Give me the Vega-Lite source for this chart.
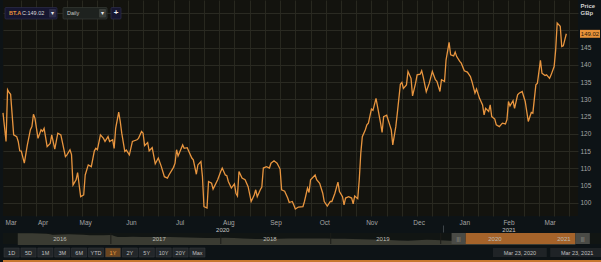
{
  "$schema": "https://vega.github.io/schema/vega-lite/v6.json",
  "background": "#0d1316",
  "padding": 0,
  "width": 575,
  "height": 216,
  "config": {"font": "Liberation Sans", "view": {"stroke": null, "fill": "#13130e"}},
  "resolve": {"scale": {"x": "independent", "y": "independent"}, "axis": {"x": "independent", "y": "independent"}},
  "layer": [
    {
      "data": {"values": [
      {"date":"2020-03-18","price":126.1},{"date":"2020-03-20","price":117.8},{"date":"2020-03-21","price":132.8},{"date":"2020-03-22","price":132.0},{"date":"2020-03-23","price":131.5},{"date":"2020-03-25","price":119.7},{"date":"2020-03-27","price":119.2},{"date":"2020-03-28","price":117.8},{"date":"2020-03-29","price":115.1},{"date":"2020-03-30","price":115.0},
      {"date":"2020-04-01","price":111.5},{"date":"2020-04-03","price":116.8},{"date":"2020-04-05","price":121.2},{"date":"2020-04-06","price":122.1},{"date":"2020-04-07","price":125.7},{"date":"2020-04-08","price":124.5},{"date":"2020-04-10","price":118.7},{"date":"2020-04-12","price":121.2},{"date":"2020-04-13","price":120.7},{"date":"2020-04-14","price":121.6},{"date":"2020-04-16","price":116.3},{"date":"2020-04-18","price":117.2},{"date":"2020-04-19","price":119.7},{"date":"2020-04-21","price":115.6},{"date":"2020-04-23","price":120.2},{"date":"2020-04-25","price":119.7},{"date":"2020-04-28","price":113.4},{"date":"2020-04-29","price":113.9},
      {"date":"2020-05-01","price":115.4},{"date":"2020-05-02","price":114.0},{"date":"2020-05-03","price":105.2},{"date":"2020-05-05","price":106.7},{"date":"2020-05-06","price":108.8},{"date":"2020-05-08","price":101.8},{"date":"2020-05-10","price":102.3},{"date":"2020-05-11","price":108.1},{"date":"2020-05-13","price":111.0},{"date":"2020-05-15","price":110.5},{"date":"2020-05-17","price":115.1},{"date":"2020-05-18","price":115.8},{"date":"2020-05-19","price":115.4},{"date":"2020-05-21","price":119.7},{"date":"2020-05-23","price":118.7},{"date":"2020-05-24","price":117.8},{"date":"2020-05-26","price":119.2},{"date":"2020-05-27","price":117.8},{"date":"2020-05-29","price":118.3},{"date":"2020-05-30","price":115.8},{"date":"2020-05-31","price":121.6},
      {"date":"2020-06-02","price":126.3},{"date":"2020-06-03","price":123.6},{"date":"2020-06-04","price":120.2},{"date":"2020-06-06","price":114.9},{"date":"2020-06-07","price":115.3},{"date":"2020-06-09","price":113.9},{"date":"2020-06-11","price":117.8},{"date":"2020-06-14","price":118.3},{"date":"2020-06-15","price":118.7},{"date":"2020-06-17","price":120.7},{"date":"2020-06-18","price":120.2},{"date":"2020-06-19","price":116.6},{"date":"2020-06-21","price":117.5},{"date":"2020-06-22","price":115.1},{"date":"2020-06-24","price":116.0},{"date":"2020-06-26","price":111.3},{"date":"2020-06-28","price":113.0},{"date":"2020-06-30","price":110.5},
      {"date":"2020-07-02","price":107.6},{"date":"2020-07-04","price":107.2},{"date":"2020-07-05","price":108.1},{"date":"2020-07-08","price":110.3},{"date":"2020-07-09","price":111.5},{"date":"2020-07-10","price":115.4},{"date":"2020-07-11","price":113.6},{"date":"2020-07-14","price":116.8},{"date":"2020-07-15","price":115.8},{"date":"2020-07-17","price":116.0},{"date":"2020-07-20","price":113.0},{"date":"2020-07-21","price":112.5},{"date":"2020-07-23","price":108.3},{"date":"2020-07-24","price":111.0},{"date":"2020-07-26","price":112.0},{"date":"2020-07-27","price":107.6},{"date":"2020-07-28","price":98.9},{"date":"2020-07-30","price":98.5},{"date":"2020-07-31","price":106.2},
      {"date":"2020-08-02","price":105.7},{"date":"2020-08-03","price":104.0},{"date":"2020-08-06","price":106.7},{"date":"2020-08-08","price":109.1},{"date":"2020-08-09","price":110.1},{"date":"2020-08-11","price":108.1},{"date":"2020-08-12","price":107.9},{"date":"2020-08-13","price":106.2},{"date":"2020-08-15","price":104.3},{"date":"2020-08-17","price":105.5},{"date":"2020-08-18","price":102.8},{"date":"2020-08-19","price":102.0},{"date":"2020-08-20","price":109.1},{"date":"2020-08-22","price":107.2},{"date":"2020-08-24","price":106.7},{"date":"2020-08-26","price":104.7},{"date":"2020-08-28","price":100.4},{"date":"2020-08-30","price":102.3},{"date":"2020-08-31","price":103.8},
      {"date":"2020-09-01","price":101.8},{"date":"2020-09-03","price":103.8},{"date":"2020-09-04","price":104.6},{"date":"2020-09-05","price":110.1},{"date":"2020-09-07","price":110.5},{"date":"2020-09-09","price":110.1},{"date":"2020-09-10","price":111.5},{"date":"2020-09-12","price":112.2},{"date":"2020-09-14","price":111.5},{"date":"2020-09-16","price":109.8},{"date":"2020-09-17","price":103.8},{"date":"2020-09-19","price":103.4},{"date":"2020-09-21","price":101.4},{"date":"2020-09-22","price":100.1},{"date":"2020-09-24","price":100.4},{"date":"2020-09-25","price":99.4},{"date":"2020-09-26","price":98.2},{"date":"2020-09-28","price":98.8},
      {"date":"2020-10-01","price":98.9},{"date":"2020-10-02","price":100.4},{"date":"2020-10-04","price":104.3},{"date":"2020-10-05","price":103.0},{"date":"2020-10-06","price":106.7},{"date":"2020-10-09","price":108.1},{"date":"2020-10-10","price":106.7},{"date":"2020-10-12","price":105.7},{"date":"2020-10-14","price":102.8},{"date":"2020-10-15","price":100.4},{"date":"2020-10-17","price":99.1},{"date":"2020-10-19","price":100.4},{"date":"2020-10-20","price":100.4},{"date":"2020-10-22","price":102.8},{"date":"2020-10-24","price":106.0},{"date":"2020-10-25","price":103.3},{"date":"2020-10-27","price":101.8},{"date":"2020-10-28","price":99.4},{"date":"2020-10-29","price":101.4},{"date":"2020-10-31","price":101.8},
      {"date":"2020-11-02","price":101.4},{"date":"2020-11-03","price":99.7},{"date":"2020-11-04","price":102.0},{"date":"2020-11-06","price":101.2},{"date":"2020-11-07","price":106.7},{"date":"2020-11-08","price":114.4},{"date":"2020-11-09","price":119.2},{"date":"2020-11-11","price":121.2},{"date":"2020-11-12","price":122.6},{"date":"2020-11-13","price":123.1},{"date":"2020-11-15","price":127.2},{"date":"2020-11-16","price":126.8},{"date":"2020-11-18","price":130.3},{"date":"2020-11-19","price":127.9},{"date":"2020-11-21","price":123.1},{"date":"2020-11-22","price":120.4},{"date":"2020-11-23","price":125.0},{"date":"2020-11-25","price":125.4},{"date":"2020-11-27","price":122.6},{"date":"2020-11-28","price":121.2},{"date":"2020-11-29","price":116.8},
      {"date":"2020-12-01","price":122.1},{"date":"2020-12-02","price":126.0},{"date":"2020-12-04","price":134.4},{"date":"2020-12-05","price":134.9},{"date":"2020-12-06","price":133.2},{"date":"2020-12-08","price":134.2},{"date":"2020-12-09","price":138.1},{"date":"2020-12-11","price":136.1},{"date":"2020-12-12","price":131.0},{"date":"2020-12-14","price":134.7},{"date":"2020-12-15","price":137.1},{"date":"2020-12-17","price":137.3},{"date":"2020-12-18","price":138.3},{"date":"2020-12-19","price":136.5},{"date":"2020-12-21","price":132.2},{"date":"2020-12-23","price":134.7},{"date":"2020-12-25","price":138.1},{"date":"2020-12-27","price":135.7},{"date":"2020-12-28","price":135.2},{"date":"2020-12-30","price":132.3},{"date":"2020-12-31","price":135.7},
      {"date":"2021-01-02","price":135.2},{"date":"2021-01-03","price":141.4},{"date":"2021-01-05","price":146.5},{"date":"2021-01-06","price":142.9},{"date":"2021-01-08","price":142.6},{"date":"2021-01-09","price":143.7},{"date":"2021-01-10","price":142.4},{"date":"2021-01-12","price":141.0},{"date":"2021-01-13","price":140.5},{"date":"2021-01-15","price":138.3},{"date":"2021-01-17","price":137.9},{"date":"2021-01-19","price":136.6},{"date":"2021-01-20","price":135.2},{"date":"2021-01-22","price":131.8},{"date":"2021-01-23","price":133.0},{"date":"2021-01-25","price":130.3},{"date":"2021-01-27","price":128.4},{"date":"2021-01-28","price":125.5},{"date":"2021-01-29","price":127.4},{"date":"2021-01-31","price":126.5},
      {"date":"2021-02-01","price":128.4},{"date":"2021-02-02","price":125.0},{"date":"2021-02-04","price":124.3},{"date":"2021-02-05","price":122.6},{"date":"2021-02-07","price":122.1},{"date":"2021-02-09","price":123.1},{"date":"2021-02-11","price":122.9},{"date":"2021-02-12","price":124.1},{"date":"2021-02-13","price":129.4},{"date":"2021-02-14","price":128.1},{"date":"2021-02-16","price":129.6},{"date":"2021-02-17","price":127.4},{"date":"2021-02-19","price":131.3},{"date":"2021-02-20","price":131.8},{"date":"2021-02-22","price":132.3},{"date":"2021-02-24","price":129.4},{"date":"2021-02-25","price":126.5},{"date":"2021-02-26","price":123.6},{"date":"2021-02-28","price":126.2},
      {"date":"2021-03-01","price":126.0},{"date":"2021-03-03","price":134.2},{"date":"2021-03-04","price":134.7},{"date":"2021-03-06","price":141.3},{"date":"2021-03-07","price":137.6},{"date":"2021-03-09","price":136.9},{"date":"2021-03-10","price":137.1},{"date":"2021-03-12","price":136.1},{"date":"2021-03-13","price":137.1},{"date":"2021-03-15","price":139.5},{"date":"2021-03-16","price":144.3},{"date":"2021-03-17","price":152.1},{"date":"2021-03-19","price":151.2},{"date":"2021-03-20","price":145.3},{"date":"2021-03-21","price":145.5},{"date":"2021-03-23","price":149.02}
      ]},
      "resolve": {"axis": {"x": "independent"}},
      "layer": [
        {
          "mark": {"type": "line", "color": "#e8953f", "strokeWidth": 1.3},
          "encoding": {
            "x": {"field": "date", "type": "temporal",
              "scale": {"type": "utc", "domain": [1584489600000, 1617120142000], "nice": false},
              "axis": {"orient": "bottom", "values": [1585526400000,1586390400000,1587254400000,1588118400000,1588982400000,1589846400000,1590710400000,1591574400000,1592438400000,1593302400000,1594166400000,1595030400000,1595894400000,1596758400000,1597622400000,1598486400000,1599350400000,1600214400000,1601078400000,1601942400000,1602806400000,1603670400000,1604534400000,1605398400000,1606262400000,1607126400000,1607990400000,1608854400000,1609718400000,1610582400000,1611446400000,1612310400000,1613174400000,1614038400000,1614902400000,1615766400000,1616630400000],
                "grid": true, "gridColor": "#28281f", "gridWidth": 1, "labels": false, "ticks": false, "domain": false, "title": null}},
            "y": {"field": "price", "type": "quantitative",
              "scale": {"domain": [96.2, 158.8], "nice": false, "zero": false},
              "axis": {"orient": "right", "values": [100,105,110,115,120,125,130,135,140,145,150,155],
                "labelExpr": "datum.value >= 150 ? '' : datum.label", "labelOverlap": false, "labelBound": false,
                "grid": true, "gridColor": "#2a2a22", "ticks": false, "domain": false,
                "labelPadding": 2, "labelFontSize": 6.5, "labelColor": "#a5a5a5", "labelAlign": "left",
                "title": ["Price", "GBp"], "titleAngle": 0, "titleX": 2, "titleY": 2, "titleAlign": "left", "titleBaseline": "top",
                "titleFontSize": 6, "titleColor": "#d0d0d0", "titleFontWeight": "bold", "titleLineHeight": 7}}
          }
        },
        {
          "mark": {"type": "rule", "opacity": 0},
          "encoding": {
            "x": {"field": "date", "type": "temporal",
              "axis": {"orient": "bottom", "values": [
                {"year":2020,"month":3,"date":23,"utc":true},{"year":2020,"month":4,"date":13,"utc":true},{"year":2020,"month":5,"date":11,"utc":true},{"year":2020,"month":6,"date":10,"utc":true},{"year":2020,"month":7,"date":12,"utc":true},{"year":2020,"month":8,"date":13,"utc":true},{"year":2020,"month":9,"date":13,"utc":true},{"year":2020,"month":10,"date":15,"utc":true},{"year":2020,"month":11,"date":15,"utc":true},{"year":2020,"month":12,"date":16,"utc":true},{"year":2021,"month":1,"date":15,"utc":true},{"year":2021,"month":2,"date":13,"utc":true},{"year":2021,"month":3,"date":12,"utc":true}],
                "format": "%b", "ticks": false, "domain": false, "grid": false, "labelPadding": 3, "labelFontSize": 6.5,
                "labelColor": "#a5a5a5", "labelFlush": false, "labelOverlap": false, "title": null}}
          }
        },
        {
          "mark": {"type": "rule", "opacity": 0},
          "encoding": {
            "x": {"field": "date", "type": "temporal",
              "axis": {"orient": "bottom", "values": [{"year":2020,"month":8,"date":9,"utc":true},{"year":2021,"month":2,"date":13,"utc":true}],
                "format": "%Y", "ticks": false, "domain": false, "grid": false, "labelPadding": 10, "labelFontSize": 6,
                "labelColor": "#c8c8c8", "labelFlush": false, "labelOverlap": false, "title": null}}
          }
        },
        {
          "mark": {"type": "rule", "opacity": 0},
          "encoding": {
            "x": {"field": "date", "type": "temporal",
              "axis": {"orient": "bottom", "values": [{"year":2021,"month":1,"date":1,"utc":true}], "labels": false, "ticks": true, "tickSize": 7, "offset": 9,
                "tickColor": "#3d4448", "domain": false, "grid": false, "title": null}}
          }
        }
      ]
    },
    {
      "data": {"values": [{}]},
      "layer": [
        {
          "mark": {"type": "rect", "fill": "#161630", "stroke": "#2e2e4c", "strokeWidth": 0.7, "cornerRadius": 1},
          "encoding": {
            "x": {"datum": 1584603098000, "type": "temporal", "scale": {"type": "utc", "domain": [1584489600000, 1617120142000], "nice": false}, "axis": null}, "x2": {"datum": 1587554033000},
            "y": {"datum": 156.63, "type": "quantitative", "scale": {"domain": [96.2, 158.8], "nice": false, "zero": false}, "axis": null}, "y2": {"datum": 153.29}
          }
        },
        {
          "mark": {"type": "text", "text": "BT.A", "align": "left", "baseline": "middle", "fontSize": 5.5, "fontWeight": "bold", "color": "#e8923a"},
          "encoding": {"x": {"datum": 1584830092611, "type": "temporal", "axis": null}, "y": {"datum": 154.96, "type": "quantitative", "axis": null}}
        },
        {
          "mark": {"type": "text", "text": "C:149.02", "align": "left", "baseline": "middle", "fontSize": 5.5, "color": "#d8d8d8"},
          "encoding": {"x": {"datum": 1585567826601, "type": "temporal", "axis": null}, "y": {"datum": 154.96, "type": "quantitative", "axis": null}}
        },
        {
          "mark": {"type": "rect", "fill": "#2d2d48", "cornerRadius": 1},
          "encoding": {
            "x": {"datum": 1587100043351, "type": "temporal", "axis": null}, "x2": {"datum": 1587497284730},
            "y": {"datum": 156.19, "type": "quantitative", "axis": null}, "y2": {"datum": 153.73}
          }
        },
        {
          "mark": {"type": "text", "text": "▾", "align": "center", "baseline": "middle", "fontSize": 6, "color": "#e8e8e8"},
          "encoding": {"x": {"datum": 1587298664040, "type": "temporal", "axis": null}, "y": {"datum": 154.96, "type": "quantitative", "axis": null}}
        },
        {
          "mark": {"type": "rect", "fill": "#1e221f", "stroke": "#363b37", "strokeWidth": 0.7, "cornerRadius": 1},
          "encoding": {
            "x": {"datum": 1587894526110, "type": "temporal", "axis": null}, "x2": {"datum": 1590391471924},
            "y": {"datum": 156.63, "type": "quantitative", "axis": null}, "y2": {"datum": 153.29}
          }
        },
        {
          "mark": {"type": "text", "text": "Daily", "align": "left", "baseline": "middle", "fontSize": 5.5, "color": "#c8c8c8"},
          "encoding": {"x": {"datum": 1588121521184, "type": "temporal", "axis": null}, "y": {"datum": 154.96, "type": "quantitative", "axis": null}}
        },
        {
          "mark": {"type": "rect", "fill": "#3a3e3a", "cornerRadius": 1},
          "encoding": {
            "x": {"datum": 1589937481776, "type": "temporal", "axis": null}, "x2": {"datum": 1590334723156},
            "y": {"datum": 156.19, "type": "quantitative", "axis": null}, "y2": {"datum": 153.73}
          }
        },
        {
          "mark": {"type": "text", "text": "▾", "align": "center", "baseline": "middle", "fontSize": 6, "color": "#e8e8e8"},
          "encoding": {"x": {"datum": 1590136102466, "type": "temporal", "axis": null}, "y": {"datum": 154.96, "type": "quantitative", "axis": null}}
        },
        {
          "mark": {"type": "rect", "fill": "#161630", "stroke": "#2e2e4c", "strokeWidth": 0.7, "cornerRadius": 1},
          "encoding": {
            "x": {"datum": 1590618466998, "type": "temporal", "axis": null}, "x2": {"datum": 1591185954683},
            "y": {"datum": 156.63, "type": "quantitative", "axis": null}, "y2": {"datum": 153.29}
          }
        },
        {
          "mark": {"type": "text", "text": "+", "align": "center", "baseline": "middle", "fontSize": 8, "fontWeight": "bold", "color": "#f0f0f0"},
          "encoding": {"x": {"datum": 1590902210841, "type": "temporal", "axis": null}, "y": {"datum": 154.96, "type": "quantitative", "axis": null}}
        },
        {
          "mark": {"type": "rect", "fill": "#e8923a"},
          "encoding": {
            "x": {"datum": 1617233639425, "type": "temporal", "axis": null}, "x2": {"datum": 1618368614795},
            "y": {"datum": 150.15, "type": "quantitative", "axis": null}, "y2": {"datum": 147.85}
          }
        },
        {
          "mark": {"type": "text", "text": "149.02", "align": "center", "baseline": "middle", "fontSize": 6, "color": "#2a1a08"},
          "encoding": {"x": {"datum": 1617801127110, "type": "temporal", "axis": null}, "y": {"datum": 149.02, "type": "quantitative", "axis": null}}
        }
      ]
    },
    {
      "data": {"values": [
        {"date":"2016-02-27","price":440},{"date":"2016-04-15","price":435},{"date":"2016-06-01","price":420},{"date":"2016-06-27","price":380},{"date":"2016-08-15","price":400},{"date":"2016-10-01","price":385},{"date":"2016-11-15","price":360},{"date":"2016-12-31","price":370},
        {"date":"2017-01-24","price":300},{"date":"2017-03-15","price":310},{"date":"2017-05-15","price":300},{"date":"2017-07-15","price":300},{"date":"2017-09-15","price":280},{"date":"2017-11-15","price":260},
        {"date":"2018-01-15","price":270},{"date":"2018-03-15","price":240},{"date":"2018-05-15","price":220},{"date":"2018-07-15","price":235},{"date":"2018-09-15","price":240},{"date":"2018-11-15","price":245},
        {"date":"2019-01-15","price":235},{"date":"2019-03-15","price":225},{"date":"2019-05-15","price":205},{"date":"2019-07-15","price":190},{"date":"2019-09-15","price":160},{"date":"2019-11-15","price":195},
        {"date":"2020-01-15","price":165},{"date":"2020-03-18","price":126},{"date":"2020-05-15","price":110},{"date":"2020-07-15","price":115},{"date":"2020-09-15","price":105},{"date":"2020-11-15","price":125},{"date":"2021-01-15","price":140},{"date":"2021-03-23","price":149}
      ]},
      "layer": [
        {
          "data": {"values": [{}]},
          "mark": {"type": "rect", "color": "#111513"},
          "encoding": {
            "x": {"datum": 1452297600000, "type": "temporal", "axis": null}, "x2": {"datum": 1624665600000},
            "y": {"datum": 40, "type": "quantitative", "axis": null}, "y2": {"datum": 445}
          }
        },
        {
          "mark": {"type": "area", "color": "#3a3b32", "interpolate": "monotone"},
          "encoding": {
            "x": {"field": "date", "type": "temporal",
              "scale": {"type": "utc", "domain": [1452297600000, 1624665600000], "range": [0, 601], "nice": false},
              "axis": null},
            "y": {"field": "price", "type": "quantitative", "scale": {"domain": [40, 445], "range": [244, 233], "nice": false, "zero": false}, "axis": null}
          }
        },
        {
          "data": {"values": [{"date":"2017-01-01"},{"date":"2018-01-01"},{"date":"2019-01-01"},{"date":"2020-01-01"},{"date":"2021-01-01"}]},
          "mark": {"type": "rule", "color": "#1b1c18", "strokeWidth": 1},
          "encoding": {
            "x": {"field": "date", "type": "temporal", "axis": null},
            "y": {"datum": 40, "type": "quantitative", "axis": null}, "y2": {"datum": 445}
          }
        },
        {
          "data": {"values": [{}]},
          "mark": {"type": "rect", "color": "#a5632a"},
          "encoding": {
            "x": {"datum": {"year":2020,"month":3,"date":23,"utc":true}, "type": "temporal", "axis": null}, "x2": {"datum": {"year":2021,"month":3,"date":23,"utc":true}},
            "y": {"datum": 40, "type": "quantitative", "axis": null}, "y2": {"datum": 445}
          }
        },
        {
          "data": {"values": [{}]},
          "mark": {"type": "rect", "color": "#4a4b46"},
          "encoding": {
            "x": {"datum": {"year":2020,"month":2,"date":6,"utc":true}, "type": "temporal", "axis": null}, "x2": {"datum": {"year":2020,"month":3,"date":23,"utc":true}},
            "y": {"datum": 40, "type": "quantitative", "axis": null}, "y2": {"datum": 445}
          }
        },
        {
          "data": {"values": [{}]},
          "mark": {"type": "rect", "color": "#4a4b46"},
          "encoding": {
            "x": {"datum": {"year":2021,"month":3,"date":23,"utc":true}, "type": "temporal", "axis": null}, "x2": {"datum": {"year":2021,"month":5,"date":10,"utc":true}},
            "y": {"datum": 40, "type": "quantitative", "axis": null}, "y2": {"datum": 445}
          }
        },
        {
          "data": {"values": [{}]},
          "mark": {"type": "text", "text": "|||", "fontSize": 5, "color": "#a0a09a", "align": "center", "baseline": "middle"},
          "encoding": {
            "x": {"datum": {"year":2020,"month":2,"date":29,"utc":true}, "type": "temporal", "axis": null},
            "y": {"datum": 242, "type": "quantitative", "axis": null}
          }
        },
        {
          "data": {"values": [{}]},
          "mark": {"type": "text", "text": "|||", "fontSize": 5, "color": "#a0a09a", "align": "center", "baseline": "middle"},
          "encoding": {
            "x": {"datum": {"year":2021,"month":4,"date":16,"utc":true}, "type": "temporal", "axis": null},
            "y": {"datum": 242, "type": "quantitative", "axis": null}
          }
        },
        {
          "data": {"values": [{"year":"2016","date":"2016-07-16"},{"year":"2017","date":"2017-06-10"},{"year":"2018","date":"2018-06-13"},{"year":"2019","date":"2019-06-23"},{"year":"2020","date":"2020-06-29"},{"year":"2021","date":"2021-02-13"}]},
          "mark": {"type": "text", "fontSize": 6, "color": "#bdbdb4", "align": "center", "baseline": "middle"},
          "encoding": {
            "x": {"field": "date", "type": "temporal", "axis": null},
            "y": {"datum": 242.5, "type": "quantitative", "axis": null},
            "text": {"field": "year"}
          }
        }
      ]
    },
    {
      "data": {"values": [{"b":"1D"},{"b":"5D"},{"b":"1M"},{"b":"3M"},{"b":"6M"},{"b":"YTD"},{"b":"1Y"},{"b":"2Y"},{"b":"5Y"},{"b":"10Y"},{"b":"20Y"},{"b":"Max"}]},
      "layer": [
        {
          "mark": {"type": "rect", "stroke": "#3a3d40", "strokeWidth": 0.5},
          "encoding": {
            "x": {"field": "b", "type": "nominal", "sort": null, "scale": {"range": [1, 202], "paddingInner": 0.1, "paddingOuter": 0}, "axis": null},
            "y": {"datum": 0, "type": "quantitative", "scale": {"domain": [0, 1], "range": [257, 248]}, "axis": null}, "y2": {"datum": 1},
            "color": {"condition": {"test": "datum.b === '1Y'", "value": "#6a4520"}, "value": "#23272a"}
          }
        },
        {
          "mark": {"type": "text", "fontSize": 5.5, "baseline": "middle"},
          "encoding": {
            "x": {"field": "b", "type": "nominal", "sort": null, "axis": null},
            "y": {"datum": 0.5, "type": "quantitative", "axis": null},
            "text": {"field": "b"},
            "color": {"condition": {"test": "datum.b === '1Y'", "value": "#f0a040"}, "value": "#c0c0c0"}
          }
        }
      ]
    },
    {
      "data": {"values": [{"d":"Mar 23, 2020"},{"d":"Mar 23, 2021"}]},
      "layer": [
        {
          "mark": {"type": "rect", "color": "#1f2326"},
          "encoding": {
            "x": {"field": "d", "type": "nominal", "sort": null, "scale": {"range": [490, 601], "paddingInner": 0.06, "paddingOuter": 0}, "axis": null},
            "y": {"datum": 0, "type": "quantitative", "scale": {"domain": [0, 1], "range": [257, 248]}, "axis": null}, "y2": {"datum": 1}
          }
        },
        {
          "mark": {"type": "text", "fontSize": 5.5, "color": "#c0c0c0", "baseline": "middle"},
          "encoding": {
            "x": {"field": "d", "type": "nominal", "sort": null, "axis": null},
            "y": {"datum": 0.5, "type": "quantitative", "axis": null},
            "text": {"field": "d"}
          }
        }
      ]
    },
    {
      "data": {"values": [{}]},
      "layer": [
        {
          "mark": {"type": "rect", "color": "#c8772f"},
          "encoding": {
            "x": {"datum": 0, "type": "quantitative", "scale": {"domain": [0, 1], "range": [0, 601]}, "axis": null}, "x2": {"datum": 1},
            "y": {"datum": 0, "type": "quantitative", "scale": {"domain": [0, 1], "range": [262, 0]}, "axis": null}, "y2": {"datum": 0.0076}
          }
        },
        {
          "mark": {"type": "rect", "color": "#c8772f"},
          "encoding": {
            "x": {"datum": 0.9975, "type": "quantitative", "axis": null}, "x2": {"datum": 1},
            "y": {"datum": 0, "type": "quantitative", "axis": null}, "y2": {"datum": 1}
          }
        }
      ]
    }
  ]
}
